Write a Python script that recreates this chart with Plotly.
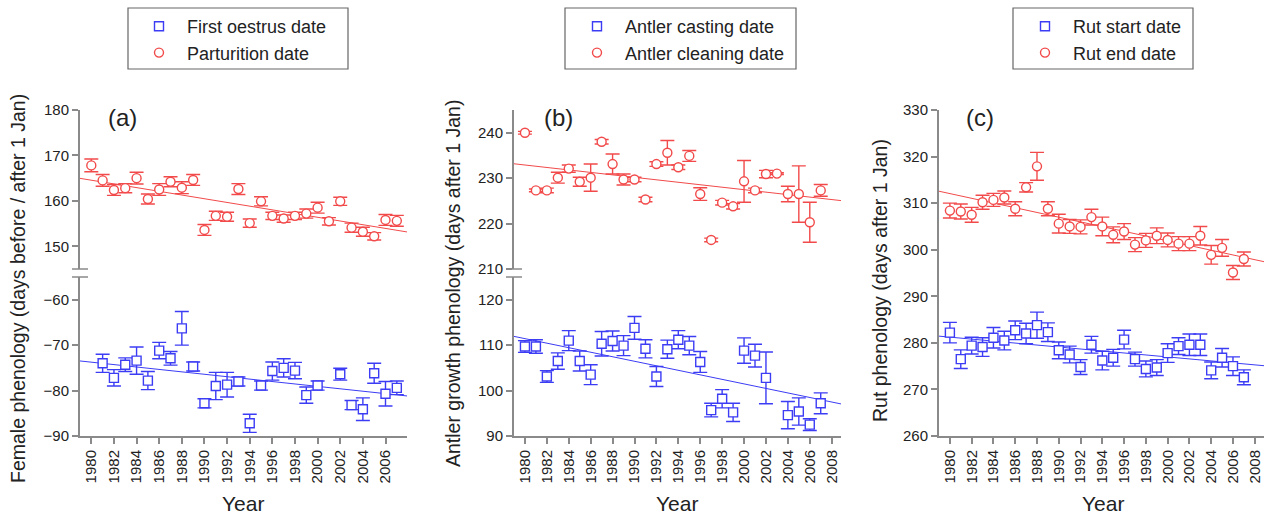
import numpy as np
import plotly.graph_objects as go

# ---------------- data ----------------
years_all = list(range(1980, 2008))

# Panel (a)
parturition_years = years_all
parturition = [167.8, 164.5, 162.4, 162.8, 165.0, 160.4, 162.5, 164.2, 162.9, 164.6,
               153.6, 156.7, 156.5, 162.6, 155.1, 159.9, 156.7, 156.1, 156.7, 157.2,
               158.5, 155.5, 159.9, 154.1, 153.2, 152.2, 155.8, 155.6]
parturition_se = [1.4, 1.3, 1.2, 1.0, 1.3, 1.1, 1.3, 1.1, 1.3, 1.2, 1.2, 1.0, 1.0, 1.2,
                  0.9, 1.0, 0.8, 0.8, 0.8, 1.0, 1.2, 0.8, 0.9, 1.0, 1.0, 0.8, 1.2, 1.2]
oestrus_years = list(range(1981, 2001)) + list(range(2002, 2008))
oestrus = [-74.0, -77.2, -74.3, -73.4, -77.8, -71.2, -72.9, -66.3, -74.7, -82.8,
           -79.0, -78.7, -78.0, -87.2, -78.9, -75.7, -75.0, -75.6, -81.0, -78.9,
           -76.4, -83.2, -84.1, -76.2, -80.7, -79.4]
oestrus_se = [2.0, 1.8, 1.5, 3.0, 2.0, 1.8, 1.5, 3.7, 1.0, 1.0, 3.0, 2.7, 1.0, 2.0,
              1.0, 2.0, 2.0, 1.8, 1.8, 1.0, 1.3, 1.0, 2.5, 2.2, 2.7, 1.5]

# Panel (b)
cleaning_years = years_all
cleaning = [240.0, 227.3, 227.3, 230.1, 232.1, 229.2, 230.1, 238.0, 233.1, 229.7,
            229.7, 225.3, 233.1, 235.6, 232.4, 234.9, 226.5, 216.4, 224.6, 223.8,
            229.3, 227.3, 230.9, 231.0, 226.5, 226.5, 220.3, 227.3]
cleaning_se = [0.3, 0.3, 0.5, 1.2, 0.8, 1.0, 3.0, 0.5, 2.2, 1.2, 0.5, 0.5, 0.5, 2.7,
               0.5, 1.2, 1.4, 0.4, 0.5, 0.6, 4.6, 0.5, 0.8, 0.2, 1.7, 6.2, 4.4, 1.3]
casting_years = list(range(1980, 2003)) + list(range(2004, 2008))
casting = [109.7, 109.7, 103.1, 106.5, 111.0, 106.5, 103.5, 110.3, 110.9, 109.9,
           113.8, 109.2, 103.1, 109.1, 111.2, 109.9, 106.3, 95.7, 98.2, 95.2,
           108.8, 107.7, 102.8, 94.6, 95.4, 92.5, 97.2]
casting_se = [1.3, 1.5, 1.3, 1.8, 2.2, 2.2, 2.2, 2.7, 2.2, 2.2, 2.5, 2.0, 2.2, 2.0,
              2.0, 2.0, 2.3, 1.5, 2.0, 2.0, 2.8, 2.5, 5.7, 3.0, 3.0, 1.3, 2.3]

# Panel (c)
rut_end_years = years_all
rut_end = [308.4, 308.2, 307.5, 310.2, 310.7, 311.2, 308.8, 313.4, 317.9, 308.8,
           305.6, 305.0, 304.9, 307.0, 305.0, 303.2, 303.9, 301.1, 302.0, 303.0,
           302.1, 301.3, 301.3, 303.0, 298.9, 300.4, 295.1, 298.0]
rut_end_se = [1.6, 1.6, 1.6, 1.5, 1.4, 1.4, 1.5, 1.0, 3.0, 1.5, 2.0, 1.5, 1.5, 1.7,
              2.0, 1.7, 1.7, 1.5, 1.5, 1.7, 1.5, 1.5, 1.5, 2.0, 2.0, 1.8, 1.5, 1.5]
rut_start_years = years_all
rut_start = [282.2, 276.5, 279.4, 279.1, 281.1, 280.5, 282.7, 282.0, 283.8, 282.3,
             278.4, 277.5, 274.8, 279.6, 276.2, 276.8, 280.7, 276.5, 274.4, 274.7,
             277.8, 279.3, 279.6, 279.6, 274.1, 276.8, 275.0, 272.6]
rut_start_se = [2.2, 2.0, 1.8, 2.0, 2.2, 2.0, 2.0, 2.2, 2.8, 2.0, 1.8, 1.8, 1.6, 1.8,
                2.0, 1.8, 2.0, 1.5, 1.7, 1.7, 2.0, 1.8, 2.3, 2.3, 1.8, 2.0, 2.0, 1.6]

ticks_a = list(range(1980, 2007, 2))
ticks_bc = list(range(1980, 2009, 2))

legend_names = {
    "a": ["First oestrus date", "Parturition date"],
    "b": ["Antler casting date", "Antler cleaning date"],
    "c": ["Rut start date", "Rut end date"],
}
panel_labels = ["(a)", "(b)", "(c)"]
y_titles = ["Female phenology (days before / after 1 Jan)",
            "Antler growth phenology (days after 1 Jan)",
            "Rut phenology (days after 1 Jan)"]

# ---------------- style ----------------
W, H = 1266, 519
BLUE = "#3c3cf5"
RED = "#f24a4a"
AXC = "#8a8a8a"
TXT = "#222222"
FONT = "Arial, Liberation Sans, sans-serif"


def fx(px):
    return px / W


def fy(py):
    return 1 - py / H


fig = go.Figure()


def add_series(x, y, se, color, symbol, name, xa, ya, legend, xr):
    x = np.array(x, dtype=float)
    y = np.array(y, dtype=float)
    k, b = np.polyfit(x, y, 1)
    xl = np.array(xr)
    fig.add_trace(go.Scatter(x=xl, y=k * xl + b, mode="lines",
                             line=dict(color=color, width=1),
                             xaxis=xa, yaxis=ya, showlegend=False, hoverinfo="skip"))
    fig.add_trace(go.Scatter(x=x, y=y, mode="markers", name=name,
                             marker=dict(symbol=symbol, size=9, color="white",
                                         line=dict(color=color, width=1.4)),
                             error_y=dict(type="data", array=se, color=color,
                                          thickness=1.4, width=7),
                             xaxis=xa, yaxis=ya, legend=legend))


xr_a = [1979.0, 2007.9]
xr_bc = [1979.0, 2008.85]

# panel a
add_series(oestrus_years, oestrus, oestrus_se, BLUE, "square", legend_names["a"][0], "x2", "y2", "legend", xr_a)
add_series(parturition_years, parturition, parturition_se, RED, "circle", legend_names["a"][1], "x", "y", "legend", xr_a)
# panel b
add_series(casting_years, casting, casting_se, BLUE, "square", legend_names["b"][0], "x4", "y4", "legend2", xr_bc)
add_series(cleaning_years, cleaning, cleaning_se, RED, "circle", legend_names["b"][1], "x3", "y3", "legend2", xr_bc)
# panel c
add_series(rut_start_years, rut_start, rut_start_se, BLUE, "square", legend_names["c"][0], "x5", "y5", "legend3", xr_bc)
add_series(rut_end_years, rut_end, rut_end_se, RED, "circle", legend_names["c"][1], "x5", "y5", "legend3", xr_bc)

tickfont = dict(family=FONT, size=15, color=TXT)


def yax(dom, rng, tv, anchor):
    return dict(domain=[fy(dom[1]), fy(dom[0])], range=rng, tickvals=tv,
                showline=True, linecolor=AXC, linewidth=2, ticks="outside",
                ticklen=6, tickcolor=AXC, tickwidth=1.5, showgrid=False, zeroline=False,
                tickfont=tickfont, anchor=anchor)


def xax(dom, rng, tv, anchor, visible=True):
    d = dict(domain=[fx(dom[0]), fx(dom[1])], range=rng, showgrid=False, zeroline=False,
             anchor=anchor)
    if visible:
        d.update(showline=True, linecolor=AXC, linewidth=2, ticks="outside", ticklen=6,
                 tickcolor=AXC, tickwidth=1.5, tickvals=tv, tickangle=-90, tickfont=tickfont)
    else:
        d.update(visible=False)
    return d


A = (80, 407)
B = (514, 841)
C = (939, 1264)

layout = dict(
    width=W, height=H, margin=dict(l=0, r=0, t=0, b=0, autoexpand=False),
    paper_bgcolor="white", plot_bgcolor="rgba(0,0,0,0)",
    font=dict(family=FONT, color=TXT),
    xaxis=xax(A, xr_a, ticks_a, "y", visible=False),
    yaxis=yax((110, 269), [145, 180], [150, 160, 170, 180], "x"),
    xaxis2=xax(A, xr_a, ticks_a, "y2"),
    yaxis2=yax((277, 436), [-90, -55], [-90, -80, -70, -60], "x2"),
    xaxis3=xax(B, xr_bc, ticks_bc, "y3", visible=False),
    yaxis3=yax((110, 269), [210, 245], [210, 220, 230, 240], "x3"),
    xaxis4=xax(B, xr_bc, ticks_bc, "y4"),
    yaxis4=yax((277, 436), [90, 125], [90, 100, 110, 120], "x4"),
    xaxis5=xax(C, xr_bc, ticks_bc, "y5"),
    yaxis5=yax((110, 436), [260, 330], list(range(260, 331, 10)), "x5"),
)

legfont = dict(family=FONT, size=18, color=TXT)
for key, xpx in [("legend", 131), ("legend2", 569), ("legend3", 1017)]:
    layout[key] = dict(x=fx(xpx), y=fy(8), xanchor="left", yanchor="top",
                       font=legfont, bgcolor="rgba(0,0,0,0)", borderwidth=0,
                       tracegroupgap=0, itemwidth=46)

fig.update_layout(**layout)

# legend boxes
shapes = []
for x0, x1 in [(128, 348), (565, 796), (1013, 1193)]:
    shapes.append(dict(type="rect", xref="paper", yref="paper", x0=fx(x0), x1=fx(x1),
                       y0=fy(69), y1=fy(8), line=dict(color="#666666", width=1.2)))
# axis break marks
for ax_x in (80, 514):
    for py in (269, 277):
        shapes.append(dict(type="line", xref="paper", yref="paper",
                           x0=fx(ax_x - 8), x1=fx(ax_x + 8), y0=fy(py), y1=fy(py),
                           line=dict(color=AXC, width=1.5)))
fig.update_layout(shapes=shapes)

ann = []
for lbl, xpx in zip(panel_labels, (122, 558, 980)):
    ann.append(dict(text=lbl, x=fx(xpx), y=fy(118), xref="paper", yref="paper",
                    xanchor="center", yanchor="middle",
                    showarrow=False, font=dict(family=FONT, size=24, color=TXT)))
for t, xpx, ypx in zip(y_titles, (18, 453, 880), (289, 283, 281)):
    ann.append(dict(text=t, x=fx(xpx), y=fy(ypx), xref="paper", yref="paper",
                    xanchor="center", yanchor="middle",
                    showarrow=False, textangle=-90, font=dict(family=FONT, size=19.5, color=TXT)))
for xpx in (243, 677, 1103):
    ann.append(dict(text="Year", x=fx(xpx), y=fy(503), xref="paper", yref="paper",
                    xanchor="center", yanchor="middle",
                    showarrow=False, font=dict(family=FONT, size=21, color=TXT)))
fig.update_layout(annotations=ann)

fig.write_html("out.html", config={"displayModeBar": False},
               post_script="document.body.style.margin='0';document.body.style.overflow='hidden';")
